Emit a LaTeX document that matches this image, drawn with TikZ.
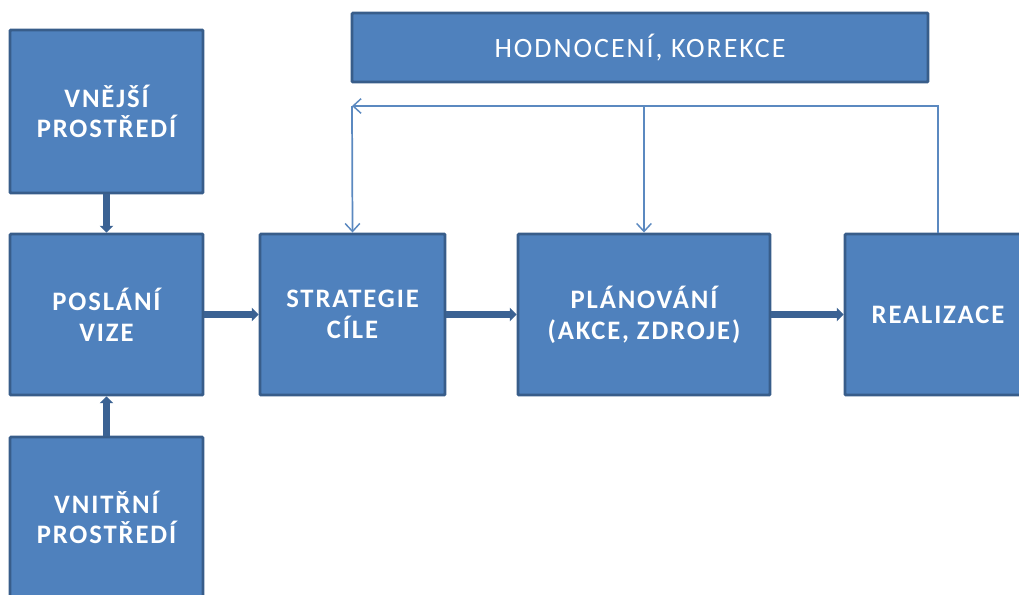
\documentclass[tikz,border=0pt]{standalone}
\usepackage{fontspec}
\setmainfont{Carlito}
\newfontfamily\boxfont{Carlito}[LetterSpace=7]
\usetikzlibrary{arrows.meta}
\definecolor{boxfill}{HTML}{4F81BD}
\definecolor{boxline}{HTML}{385D8A}
\definecolor{thickarr}{HTML}{3B6293}
\definecolor{thinarr}{HTML}{5B89C0}
\tikzset{
  blockbox/.style={draw=boxline, fill=boxfill, line width=2.2pt, rounded corners=0.8pt,
    text=white, font=\boxfont\bfseries\fontsize{20}{23}\selectfont, align=center, inner sep=0pt},
  mainarrow/.style={draw=thickarr, line width=4.8pt, -{Triangle[width=10pt,length=5pt]}},
  fbline/.style={draw=thinarr, line width=1.3pt},
  fbarrow/.style={fbline, -{Straight Barb[width=11pt,length=6pt,line width=1.1pt]}}
}
\begin{document}
\begin{tikzpicture}[x=0.75pt,y=-0.75pt]
\useasboundingbox (0,0) rectangle (1019,594);
\clip (0,0) rectangle (1019,594);
\node[blockbox, minimum width=0.75pt*193, minimum height=0.75pt*163] (ext) at (106.5,111.5) {VNĚJŠÍ\\PROSTŘEDÍ};
\node[blockbox, minimum width=0.75pt*193, minimum height=0.75pt*161] (mis) at (106.5,314.5) {POSLÁNÍ\\VIZE};
\node[blockbox, minimum width=0.75pt*193, minimum height=0.75pt*161] (int) at (106.5,517.5) {VNITŘNÍ\\PROSTŘEDÍ};
\node[blockbox, minimum width=0.75pt*185, minimum height=0.75pt*161] (str) at (352.5,314.5) {STRATEGIE\\CÍLE};
\node[blockbox, minimum width=0.75pt*252, minimum height=0.75pt*161] (plan) at (644,314.5) {PLÁNOVÁNÍ\\(AKCE, ZDROJE)};
\node[blockbox, minimum width=0.75pt*186, minimum height=0.75pt*161] (real) at (938,314.5) {REALIZACE};
\node[blockbox, minimum width=0.75pt*576, minimum height=0.75pt*69, font=\boxfont\fontsize{21}{23}\selectfont] (eval) at (640,47.5) {HODNOCENÍ, KOREKCE};
\coordinate (fbl) at (352,106);
\draw[mainarrow] (ext.south) -- (mis.north);
\draw[mainarrow] (int.north) -- (mis.south);
\draw[mainarrow] (mis.east) -- (str.west);
\draw[mainarrow] (str.east) -- (plan.west);
\draw[mainarrow] (plan.east) -- (real.west);
\draw[fbarrow] (real.north) |- (fbl);
\draw[fbarrow] (fbl) -- (str.north);
\draw[fbarrow] (plan.north |- fbl) -- (plan.north);
\end{tikzpicture}
\end{document}
